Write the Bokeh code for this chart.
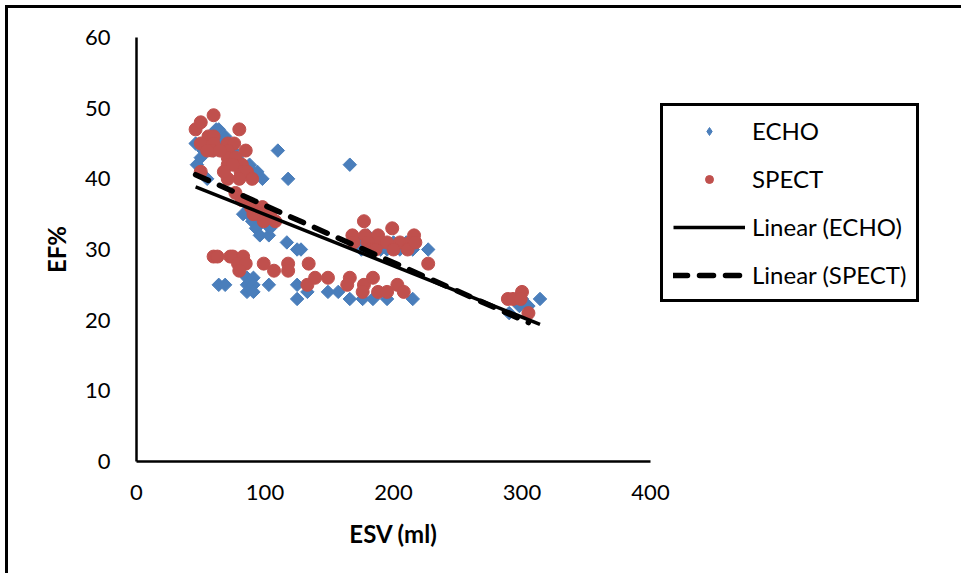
import numpy as np
from bokeh.plotting import figure
from bokeh.models import Range1d, FixedTicker, Legend, LegendItem
from bokeh.embed import file_html
from bokeh.resources import INLINE

# ---- data ----
echo_esv = [46, 47, 50, 52, 55, 58, 60, 62, 64, 66, 69, 72, 75, 78, 81, 85, 88, 90, 94, 98, 110, 118,
            83, 87, 90, 93, 96, 98, 103, 104, 117, 125, 128, 166,
            172, 180, 175, 185, 190, 195, 200, 205, 210, 215, 227,
            64, 69, 86, 91, 86, 91, 86, 91, 103, 125, 133, 125, 149, 157, 166, 176, 184, 195, 215,
            290, 295, 298, 300, 305, 314]
echo_ef = [45, 42, 43, 44, 40, 46, 44, 47, 47, 45, 46, 45, 44, 43, 42, 41, 42, 41, 41, 40, 44, 40,
           35, 35, 34, 33, 32, 34, 32, 33, 31, 30, 30, 42,
           31, 32, 30, 31, 30, 30, 31, 30, 31, 30, 30,
           25, 25, 26, 26, 25, 25, 24, 24, 25, 25, 24, 23, 24, 24, 23, 23, 23, 23, 23,
           21, 23, 22, 23, 22, 23]

spect_esv = [46, 50, 60, 56, 60, 50, 60, 71, 76, 59, 71, 85, 71, 77, 82, 71, 81, 86, 90, 80, 71, 50, 80, 65, 55, 75, 68,
             77, 82, 89, 92, 98, 99, 104, 108, 95, 91,
             60, 63, 73, 75, 83, 79, 85, 80, 99, 107, 118, 118, 134, 139, 149, 133, 166, 164, 177, 176, 184, 188, 195, 203, 208, 227,
             177, 168, 178, 188, 199, 216, 169, 180, 190, 195, 205, 213, 200, 211, 217, 182, 186,
             289, 293, 300, 299, 305]
spect_ef = [47, 48, 49, 46, 46, 45, 45, 45, 45, 44, 44, 44, 43, 43, 42, 42, 41, 41, 40, 40, 40, 41, 47, 44, 44, 42, 41,
            38, 37, 36, 36, 36, 34, 35, 34, 35, 35,
            29, 29, 29, 29, 29, 28, 28, 27, 28, 27, 28, 27, 28, 26, 26, 25, 26, 25, 25, 24, 26, 24, 24, 25, 24, 28,
            34, 32, 32, 32, 33, 32, 31, 31, 31, 31, 31, 31, 30, 30, 31, 30, 30,
            23, 23, 24, 23, 21]

x_ticks = [0, 100, 200, 300, 400]
y_ticks = [0, 10, 20, 30, 40, 50, 60]
x_label = "ESV (ml)"
y_label = "EF%"
series_names = ["ECHO", "SPECT", "Linear (ECHO)", "Linear (SPECT)"]

BLUE = "#4A7EBB"
RED = "#C0504D"
FONT = "Lato"

p = figure(frame_width=514, frame_height=424, output_backend="svg", toolbar_location=None,
           x_range=Range1d(x_ticks[0], x_ticks[-1]), y_range=Range1d(y_ticks[0], y_ticks[-1]),
           min_border_left=128, min_border_right=0, min_border_top=29, min_border_bottom=112)
p.styles = {"border-left": "3px solid black", "border-top": "3px solid black",
            "margin-left": "5px", "margin-top": "5px"}
p.outline_line_color = None
p.xgrid.visible = False
p.ygrid.visible = False
p.background_fill_color = "white"
p.border_fill_color = "white"

for ax in (p.xaxis[0], p.yaxis[0]):
    ax.axis_line_width = 2.5
    ax.axis_line_color = "black"
    ax.major_tick_line_color = None
    ax.minor_tick_line_color = None
    ax.major_tick_out = 0
    ax.major_tick_in = 0
    ax.major_label_text_font = FONT
    ax.major_label_text_font_size = "22px"
    ax.major_label_text_color = "black"
    ax.axis_label_text_font = FONT
    ax.axis_label_text_font_size = "24px"
    ax.axis_label_text_font_style = "bold"
    ax.axis_label_text_color = "black"

p.xaxis.ticker = FixedTicker(ticks=x_ticks)
p.yaxis.ticker = FixedTicker(ticks=y_ticks)
p.xaxis.axis_label = x_label
p.yaxis.axis_label = y_label
p.xaxis.major_label_standoff = 23
p.yaxis.major_label_standoff = 26
p.xaxis.axis_label_standoff = 16
p.yaxis.axis_label_standoff = 11

r_echo = p.scatter(echo_esv, echo_ef, marker="square", angle=45, angle_units="deg", size=9.5,
                   fill_color=BLUE, line_color=BLUE)
r_spect = p.scatter(spect_esv, spect_ef, marker="circle", size=13,
                    fill_color=RED, line_color=RED)

fe = np.polyfit(echo_esv, echo_ef, 1)
xe = np.array([min(echo_esv), max(echo_esv)])
r_le = p.line(xe, np.polyval(fe, xe), line_color="black", line_width=3.5)

fs = np.polyfit(spect_esv, spect_ef, 1)
xs = np.array([min(spect_esv), max(spect_esv)])
r_ls = p.line(xs, np.polyval(fs, xs), line_color="black", line_width=5.5,
              line_dash="14 12", line_cap="round")

# legend-only swatch (a single NaN point: nothing is drawn in the plot)
leg_echo = p.scatter(x=[np.nan], y=[np.nan], marker="diamond", size=12,
                     fill_color=BLUE, line_color=BLUE)

legend = Legend(items=[LegendItem(label=series_names[0], renderers=[leg_echo]),
                       LegendItem(label=series_names[1], renderers=[r_spect]),
                       LegendItem(label=series_names[2], renderers=[r_le]),
                       LegendItem(label=series_names[3], renderers=[r_ls])],
                location=(10, 159))
legend.border_line_color = "black"
legend.border_line_alpha = 1
legend.border_line_width = 3
legend.glyph_width = 72
legend.glyph_height = 20
legend.label_height = 20
legend.spacing = 19
legend.padding = 10
legend.label_standoff = 7
legend.margin = 0
legend.label_text_font = FONT
legend.label_text_font_size = "24px"
legend.label_text_color = "black"
legend.background_fill_alpha = 1
p.add_layout(legend, "right")

open("out.html", "w").write(file_html(p, INLINE))
